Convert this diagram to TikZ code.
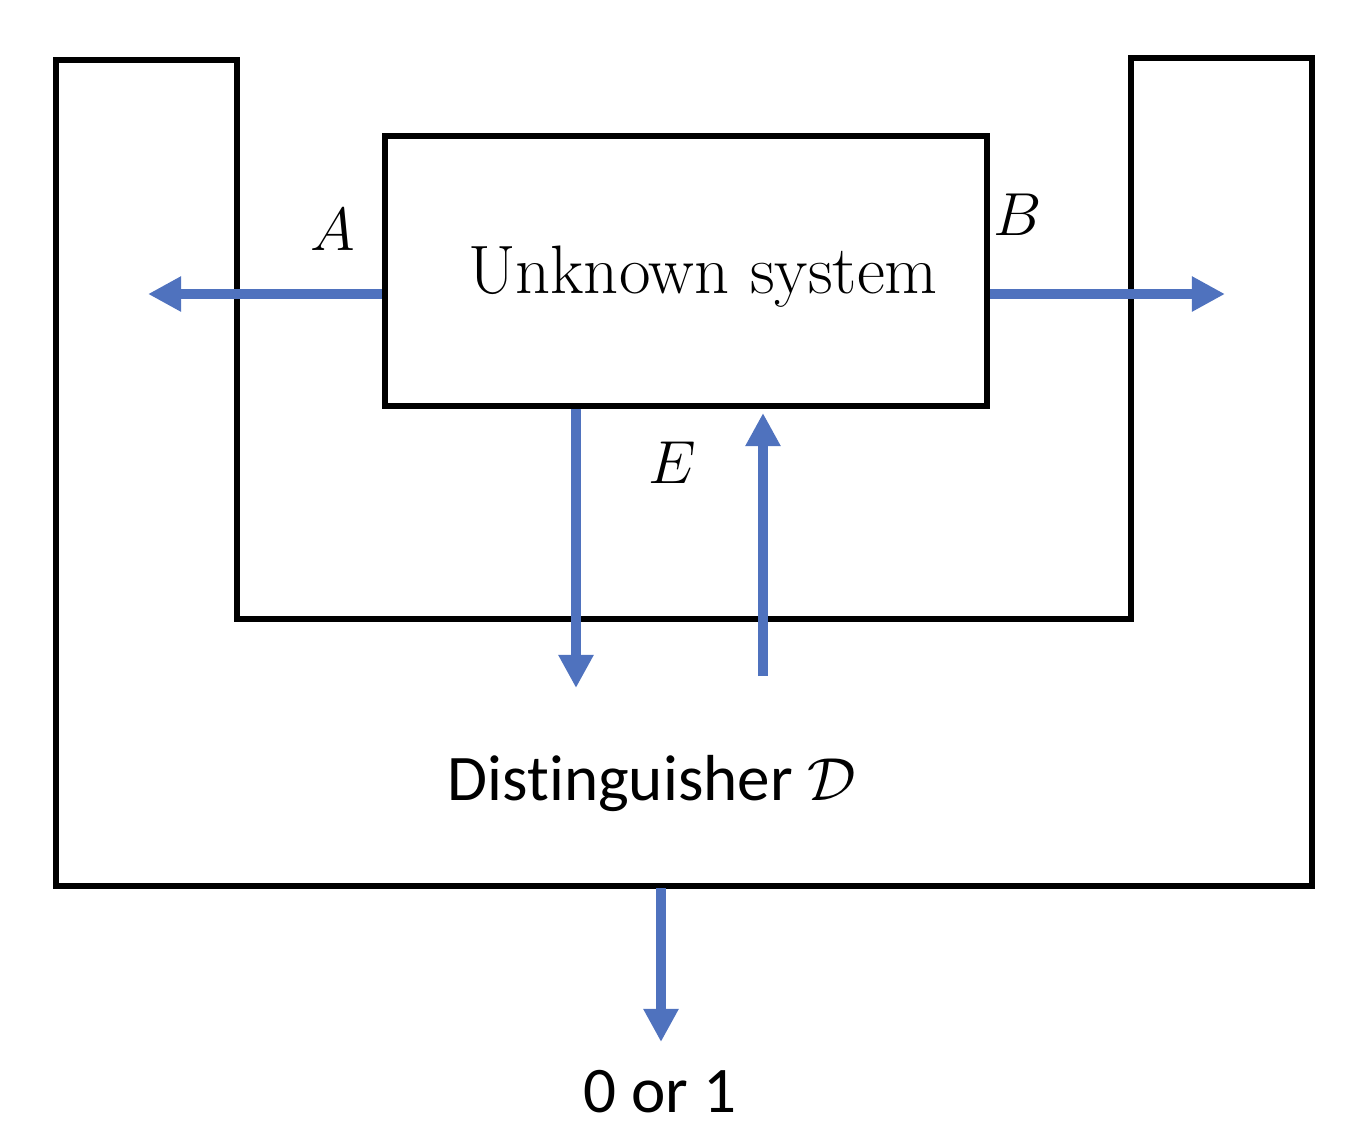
\documentclass[tikz,border=0pt]{standalone}
\usepackage{fontspec}
\setsansfont[Ligatures=NoCommon]{Carlito}
\usetikzlibrary{arrows.meta,positioning}
\definecolor{flowblue}{RGB}{79,114,190}

\begin{document}
\begin{tikzpicture}[x=0.01cm, y=-0.01cm, 
		wall/.style = {draw, line width=0.6mm},
		flow/.style = {draw=flowblue, line width=1mm, -{Triangle[length=3.3mm,width=3.3mm]}},
		port/.style = {font=\fontsize{18}{22}\selectfont}]
		\useasboundingbox (0,0) rectangle (1356,1132);
		
		%Distinguisher wrapped round the system
		\draw[wall] (56,60) -- (237,60) -- (237,619) -- (1131,619) -- (1131,58) -- (1312,58) -- (1312,886) -- (56,886) -- cycle;
		\node[anchor=base, font=\sffamily\fontsize{18.5}{22}\selectfont] (dist) at (652,800) {Distinguisher $\mathcal{D}$};
		
		%Unknown system in the middle
		\node[wall, minimum width=6.02cm, minimum height=2.70cm] (sys) at (686,271) {};
		\node[anchor=base, font=\fontsize{19.5}{23}\selectfont] (sysname) at (703,293) {Unknown system};
		
		%Interface labels
		\node[port] (A) at (333,230) {$A$};
		\node[port] (B) at (1018,215) {$B$};
		\node[port] (E) at (672,463) {$E$};
		
		%Free ends of the flows
		\coordinate (aout) at (148,294);
		\coordinate (bout) at (1225,294);
		\coordinate (eout) at (576,688);
		\coordinate (ein) at (763,676);
		\coordinate (etip) at (763,413);
		\coordinate (dbot) at (661,888);
		\coordinate (dtip) at (661,1042);
		\node[anchor=base, font=\sffamily\fontsize{18.5}{22}\selectfont] (res) at (660,1112) {0 or 1};
		
		%Flows
		\draw[flow] (sys.west |- aout) -- (aout); %Interface A
		\draw[flow] (sys.east |- bout) -- (bout); %Interface B
		\draw[flow] (sys.south -| eout) -- (eout); %E out of the system
		\draw[flow] (ein) -- (etip); %E into the system
		\draw[flow] (dbot) -- (dtip); %Output bit
	\end{tikzpicture}
\end{document}
